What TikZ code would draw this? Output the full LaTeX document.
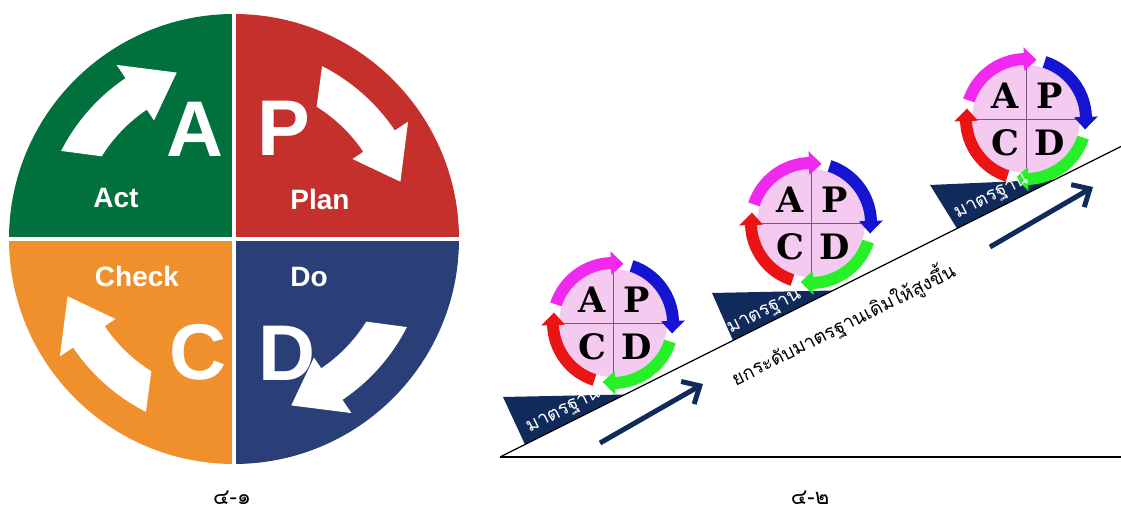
\documentclass[tikz,border=0pt]{standalone}
\usepackage{fontspec}
\setmainfont{Liberation Sans}
\newfontfamily\thaifont[Script=Thai]{Loma}
\newfontfamily\apcdfont{DejaVu Serif}
\usetikzlibrary{arrows.meta,positioning,calc}
\definecolor{actgreen}{RGB}{0,112,60}
\definecolor{planred}{RGB}{197,48,44}
\definecolor{checkorange}{RGB}{240,144,45}
\definecolor{donavy}{RGB}{42,63,119}
\definecolor{deepnavy}{RGB}{16,42,92}
\definecolor{wheelpink}{RGB}{244,202,240}
\definecolor{crossgray}{RGB}{120,90,120}
\definecolor{ringmag}{RGB}{240,40,240}
\definecolor{ringblue}{RGB}{20,20,210}
\definecolor{ringgreen}{RGB}{40,240,40}
\definecolor{ringred}{RGB}{235,20,20}
\tikzset{bigletter/.style={text=white,font=\bfseries\fontsize{79}{79}\selectfont,inner sep=0pt},word/.style={text=white,font=\bfseries\fontsize{28}{28}\selectfont,inner sep=0pt},wheelletter/.style={font=\apcdfont\bfseries\fontsize{35}{35}\selectfont,inner sep=0pt},wedge/.style={fill=deepnavy},wedgetext/.style={text=white,font=\thaifont\fontsize{19}{19}\selectfont,rotate=26.57,inner sep=0pt},rise/.style={-{Straight Barb[length=14pt,width=26pt]},line width=5pt,draw=deepnavy},caption/.style={font=\thaifont\fontsize{22}{22}\selectfont,inner sep=0pt,anchor=base}}
\tikzset{
  pics/bend/.style={code={
    \fill[white] (153:194) arc[start angle=153,end angle=124,radius=194] -- (124:210) -- (109:176) -- (124:143) -- (124:156) arc[start angle=124,end angle=148,radius=156] -- cycle;
  }},
  pics/apcd/.style={code={
    \fill[wheelpink] (0,0) circle[radius=54];
    \draw[crossgray,line width=0.8pt] (-54,0) -- (54,0) (0,-54) -- (0,54);
    \node[wheelletter] (-a) at (-21,23) {A};
    \node[wheelletter] (-p) at (24,23) {P};
    \node[wheelletter] (-c) at (-21,-24) {C};
    \node[wheelletter] (-d) at (24,-24) {D};
    \foreach \col/\rot in {ringmag/0,ringblue/-90,ringgreen/-180,ringred/-270}{
      \begin{scope}[rotate=\rot]
        \fill[\col] (162:66) arc[start angle=162,end angle=92,radius=66] -- (92:72) -- (80:60) -- (92:48) -- (92:54) arc[start angle=92,end angle=162,radius=54] -- cycle;
      \end{scope}}
  }}
}
\begin{document}
\begin{tikzpicture}[x=1pt,y=1pt]
\useasboundingbox (0,0) rectangle (1121,510);
% PDCA disc
\coordinate (hub) at (234,271);
\fill[actgreen] (hub) -- ++(180:225) arc[start angle=180,end angle=90,radius=225] -- cycle;
\fill[planred] (hub) -- ++(90:225) arc[start angle=90,end angle=0,radius=225] -- cycle;
\fill[donavy] (hub) -- ++(0:225) arc[start angle=0,end angle=-90,radius=225] -- cycle;
\fill[checkorange] (hub) -- ++(-90:225) arc[start angle=-90,end angle=-180,radius=225] -- cycle;
\draw[white,line width=4pt] ($(hub)+(-226,0)$) -- ($(hub)+(226,0)$) ($(hub)+(0,-226)$) -- ($(hub)+(0,226)$);
\pic at (hub) {bend};
\pic[rotate=-90] at (hub) {bend};
\pic[rotate=-180] at (hub) {bend};
\pic[rotate=90] at (hub) {bend};
\node[bigletter] (bigA) at (195,381) {A};
\node[bigletter] (bigP) at (284,382) {P};
\node[bigletter] (bigC) at (198,158) {C};
\node[bigletter] (bigD) at (287,157) {D};
\node[word] (act) at (116,312) {Act};
\node[word] (plan) at (320,310) {Plan};
\node[word] (check) at (137,234) {Check};
\node[word] (do) at (309,233) {Do};
% slope with standards
\coordinate (foot) at (500,53);
\coordinate (crest) at (1121,363.5);
\coordinate (floorend) at (1121,53);
\fill[wedge] (503,113) -- (624,115.5) -- (525,65.5) -- cycle;
\fill[wedge] (712,217) -- (833,219.5) -- (733,169.5) -- cycle;
\fill[wedge] (930,325) -- (1055,330.5) -- (957,281.5) -- cycle;
\draw[line width=1.3pt] (foot) -- (crest);
\draw[line width=2.2pt] (foot) -- (floorend);
\pic (w1) at (613,187) {apcd};
\pic (w2) at (811,287) {apcd};
\pic (w3) at (1026,391) {apcd};
\node[wedgetext] (std1) at (564,98) {มาตรฐาน};
\node[wedgetext] (std2) at (765,197) {มาตรฐาน};
\node[wedgetext] (std3) at (992,312) {มาตรฐาน};
\coordinate (r1a) at (600,67);
\coordinate (r1b) at (703,126);
\coordinate (r2a) at (990,263);
\coordinate (r2b) at (1093,323);
\draw[rise] (r1a) -- (r1b);
\draw[rise] (r2a) -- (r2b);
\node[font=\thaifont\fontsize{19}{19}\selectfont,rotate=26.57,inner sep=0pt] (raise) at (843,186) {ยกระดับมาตรฐานเดิมให้สูงขึ้น};
% captions
\node[caption] (capleft) at (232,5) {๔-๑};
\node[caption] (capright) at (810,5) {๔-๒};
\end{tikzpicture}
\end{document}
